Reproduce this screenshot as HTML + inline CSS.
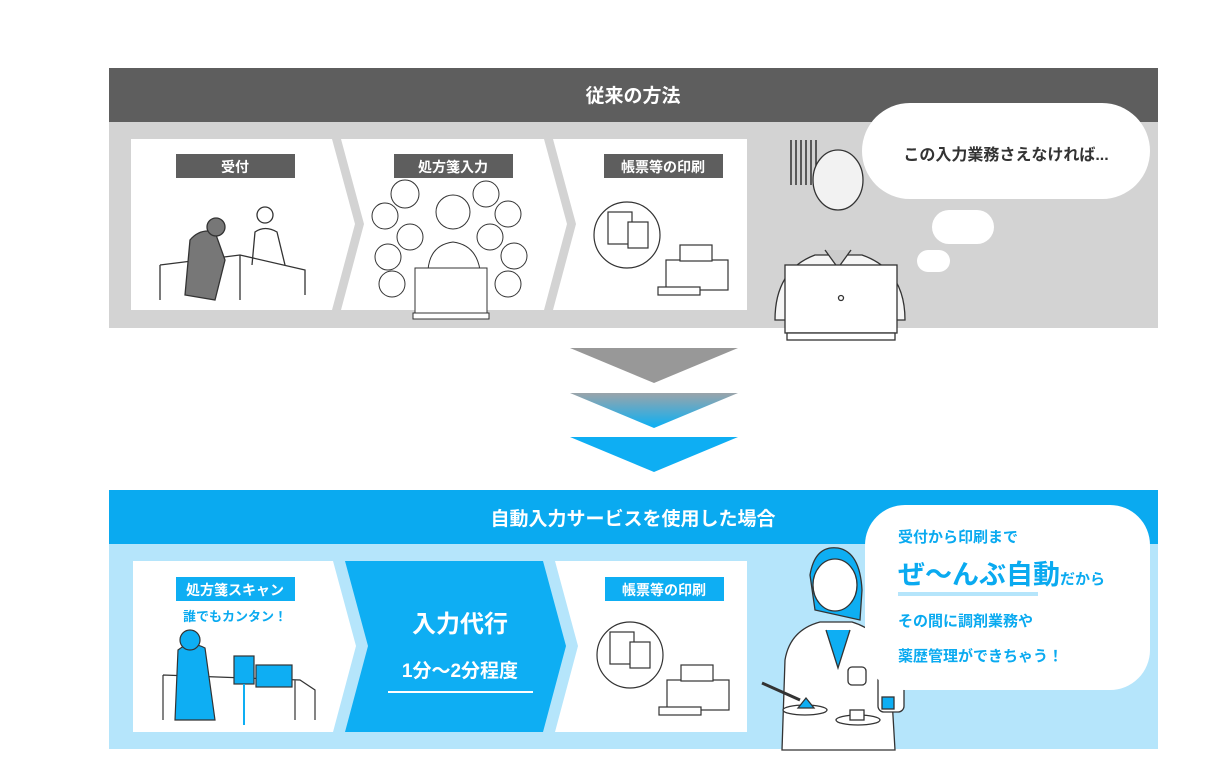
<!DOCTYPE html>
<html><head><meta charset="utf-8"><style>
html,body{margin:0;padding:0;background:#fff;width:1206px;height:781px;overflow:hidden}
svg{display:block}
text{font-family:"Liberation Sans","Noto Sans CJK JP",sans-serif;font-weight:bold}
</style></head><body>
<svg width="1206" height="781" viewBox="0 0 1206 781" xmlns="http://www.w3.org/2000/svg">
<defs>
<linearGradient id="g" x1="0" y1="0" x2="0" y2="1"><stop offset="0" stop-color="#9aa4aa"/><stop offset="1" stop-color="#0ab0f5"/></linearGradient>
</defs>
<!-- TOP -->
<rect x="109" y="68" width="1049" height="54" fill="#5e5e5e"/>
<text x="633" y="102" fill="#fff" font-size="19" text-anchor="middle">従来の方法</text>
<rect x="109" y="122" width="1049" height="206" fill="#d3d3d3"/>
<polygon points="131,139 332,139 355,224 332,310 131,310" fill="#fff"/>
<polygon points="341,139 544,139 567,224 544,310 341,310 364,224" fill="#fff"/>
<polygon points="553,139 747,139 747,310 553,310 576,224" fill="#fff"/>
<rect x="176" y="154" width="119" height="24" fill="#5e5e5e"/><text x="235" y="172" fill="#fff" font-size="14" text-anchor="middle">受付</text>
<rect x="394" y="154" width="119" height="24" fill="#5e5e5e"/><text x="453" y="172" fill="#fff" font-size="14" text-anchor="middle">処方箋入力</text>
<rect x="604" y="154" width="119" height="24" fill="#5e5e5e"/><text x="663" y="172" fill="#fff" font-size="14" text-anchor="middle">帳票等の印刷</text>
<!-- reception sketch -->
<g fill="none" stroke="#333" stroke-width="1.3">
<path d="M160 265 L240 255 L305 270 L305 295 M160 265 L160 300 M240 255 L240 300"/>
<path d="M185 295 L190 240 Q200 228 215 232 L225 260 L215 300 Z" fill="#777"/>
<circle cx="216" cy="227" r="9" fill="#777"/>
<circle cx="265" cy="215" r="8"/><path d="M252 265 L255 232 Q265 225 277 232 L285 265"/>
</g>
<!-- input sketch circles -->
<g fill="#fff" stroke="#333" stroke-width="1">
<circle cx="405" cy="194" r="14"/><circle cx="385" cy="216" r="13"/><circle cx="410" cy="237" r="13"/><circle cx="388" cy="257" r="13"/><circle cx="392" cy="284" r="13"/>
<circle cx="486" cy="194" r="13"/><circle cx="508" cy="214" r="13"/><circle cx="490" cy="237" r="13"/><circle cx="514" cy="256" r="13"/><circle cx="508" cy="284" r="13"/>
<circle cx="453" cy="212" r="17"/>
<path d="M428 270 Q430 245 453 242 Q476 245 480 270 Z"/>
<rect x="415" y="268" width="72" height="45"/><rect x="413" y="313" width="76" height="6"/>
</g>
<!-- printer sketch -->
<g fill="#fff" stroke="#333" stroke-width="1.2">
<circle cx="627" cy="235" r="33"/><rect x="608" y="212" width="24" height="32"/><rect x="628" y="222" width="20" height="26"/>
<rect x="666" y="260" width="62" height="30"/><rect x="680" y="245" width="32" height="16"/><rect x="658" y="287" width="42" height="8"/>
</g>
<!-- right illustration -->
<g stroke="#333" stroke-width="1.3">
<path d="M791 140 v45 M796 140 v45 M801 140 v45 M806 140 v45 M811 140 v45 M816 140 v45" stroke-width="1.5"/>
<ellipse cx="838" cy="180" rx="25" ry="30" fill="#f2f2f2"/>
<path d="M775 320 Q775 270 815 255 L862 255 Q905 270 905 320 Z" fill="#f5f5f5"/>
<path d="M825 250 L838 268 L851 250" fill="#ccc"/>
<rect x="785" y="265" width="112" height="68" fill="#fff"/><rect x="787" y="333" width="108" height="7" fill="#fff"/>
<circle cx="841" cy="298" r="2.5" fill="none"/>
</g>
<rect x="862" y="103" width="288" height="96" rx="48" fill="#fff"/>
<text x="1006" y="160" fill="#333" font-size="16" text-anchor="middle">この入力業務さえなければ...</text>
<rect x="932" y="210" width="62" height="34" rx="17" fill="#fff"/>
<rect x="917" y="250" width="33" height="22" rx="11" fill="#fff"/>
<!-- ARROWS -->
<polygon points="570,348 738,348 654,383" fill="#989898"/>
<polygon points="570,393 738,393 654,428" fill="url(#g)"/>
<polygon points="570,437 738,437 654,472" fill="#0eaef3"/>
<!-- BOTTOM -->
<rect x="109" y="490" width="1049" height="54" fill="#0aaaf0"/>
<text x="633" y="525" fill="#fff" font-size="19" text-anchor="middle">自動入力サービスを使用した場合</text>
<rect x="109" y="544" width="1049" height="205" fill="#b5e5fb"/>
<polygon points="133,561 333,561 356,646 333,732 133,732" fill="#fff"/>
<polygon points="345,561 543,561 566,646 543,732 345,732 368,646" fill="#0eaef3"/>
<polygon points="555,561 747,561 747,732 555,732 578,646" fill="#fff"/>
<rect x="176" y="577" width="119" height="24" fill="#0eaef3"/><text x="235" y="595" fill="#fff" font-size="14" text-anchor="middle">処方箋スキャン</text>
<text x="235" y="621" fill="#0aaaf0" font-size="13" text-anchor="middle">誰でもカンタン！</text>
<rect x="605" y="577" width="119" height="24" fill="#0eaef3"/><text x="664" y="595" fill="#fff" font-size="14" text-anchor="middle">帳票等の印刷</text>
<text x="460" y="632" fill="#fff" font-size="24" text-anchor="middle" font-weight="normal">入力代行</text>
<text x="460" y="677" fill="#fff" font-size="19" text-anchor="middle">1分～2分程度</text>
<rect x="388" y="691" width="145" height="2" fill="#fff"/>
<g stroke="#333" stroke-width="1.2">
<path d="M163 675 L300 680 L315 690 L315 720 M163 675 L163 720 M295 680 L295 720" fill="none"/>
<path d="M175 720 L178 650 Q190 640 205 648 L215 720 Z" fill="#0eaef3"/>
<circle cx="190" cy="640" r="10" fill="#0eaef3"/>
<rect x="234" y="656" width="20" height="28" fill="#0eaef3"/><path d="M244 684 V725" stroke="#0eaef3" stroke-width="2"/>
<rect x="256" y="665" width="36" height="22" fill="#0eaef3"/>
</g>
<g fill="#fff" stroke="#333" stroke-width="1.2">
<circle cx="630" cy="655" r="33"/><rect x="610" y="632" width="24" height="32"/><rect x="630" y="642" width="20" height="26"/>
<rect x="667" y="680" width="62" height="30"/><rect x="681" y="665" width="32" height="16"/><rect x="659" y="707" width="42" height="8"/>
</g>
<g stroke="#333" stroke-width="1.3">
<path d="M810 575 Q815 545 838 548 Q860 552 862 590 L860 620 L815 610 Z" fill="#0eaef3"/>
<ellipse cx="835" cy="585" rx="22" ry="26" fill="#fff"/>
<path d="M782 750 L785 660 Q790 630 820 622 L852 622 Q885 632 890 665 L895 750 Z" fill="#fff"/>
<path d="M826 630 L838 668 L850 630" fill="#0eaef3"/>
<rect x="848" y="667" width="18" height="18" rx="4" fill="none"/>
<path d="M762 683 L800 700" stroke-width="3"/>
<ellipse cx="805" cy="710" rx="22" ry="5" fill="#fff"/><path d="M798 708 L806 698 L814 708Z" fill="#0eaef3"/>
<ellipse cx="858" cy="720" rx="22" ry="5" fill="#fff"/><rect x="850" y="710" width="14" height="10" fill="#fff"/>
<rect x="878" y="672" width="26" height="40" rx="6" fill="#fff"/><rect x="882" y="697" width="12" height="12" fill="#0eaef3"/>
</g>
<rect x="865" y="505" width="285" height="185" rx="40" fill="#fff"/>
<text x="898" y="542" fill="#0aaaf0" font-size="15">受付から印刷まで</text>
<text x="898" y="584" fill="#0aaaf0" font-size="27">ぜ～んぶ自動<tspan font-size="15">だから</tspan></text>
<rect x="898" y="592" width="140" height="4" fill="#b5e5fb"/>
<text x="898" y="626" fill="#0aaaf0" font-size="15">その間に調剤業務や</text>
<text x="898" y="661" fill="#0aaaf0" font-size="15">薬歴管理ができちゃう！</text>
</svg>
</body></html>
